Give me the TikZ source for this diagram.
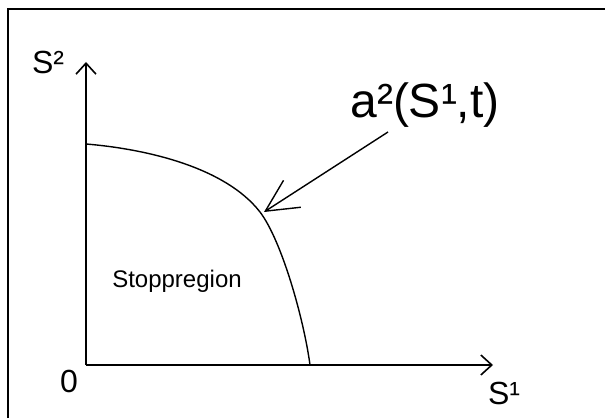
\documentclass[tikz,border=0pt]{standalone}
\usepackage{fontspec}
\setmainfont{Liberation Sans}
\usetikzlibrary{arrows.meta}
\tikzset{
  axis/.style={line width=1.6pt, -{Straight Barb[length=11pt,width=20pt]}},
  curve/.style={line width=1.4pt},
  pointer/.style={line width=1.4pt, -{Straight Barb[length=32pt,width=32pt]}},
  frame/.style={line width=2pt},
  lbl/.style={inner sep=0pt, font=\fontsize{#1}{#1}\selectfont},
  lbl/.default=32,
}

\begin{document}
\begin{tikzpicture}[x=1pt,y=1pt]
  \useasboundingbox (0,0) rectangle (605,418);

  % Frame
  \draw[frame] (8,0) -- (8,409) -- (605,409);

  % Axes
  \coordinate (O) at (86,53);
  \coordinate (ytip) at (86,356);
  \coordinate (xtip) at (493,53);
  \draw[axis] (O) -- (ytip);
  \draw[axis] (O) -- (xtip);
  \node[lbl] (zero) at (69,37) {0};
  \node[lbl] (s1) at (504,25) {S¹};
  \node[lbl] (s2) at (48,356) {S²};

  % Boundary
  \draw[curve, shift={(O)}] (0,221) .. controls (60,216) and (139,198) .. (174,153)
    .. controls (196,124) and (218,45) .. (224,0);
  \node[lbl=24] (stop) at (177,137) {Stoppregion};

  % Label and pointer
  \node[lbl=48] (a2) at (425,313) {a²(S¹,t)};
  \coordinate (ptail) at (388,286);
  \coordinate (phead) at (264,206);
  \draw[pointer] (ptail) -- (phead);
\end{tikzpicture}
\end{document}
